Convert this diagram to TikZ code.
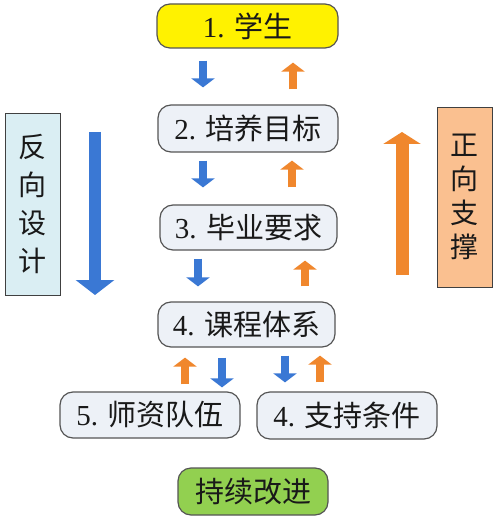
\documentclass[tikz,border=0pt]{standalone}
\usepackage{fontspec}
\setmainfont{Liberation Serif}
\newfontfamily\cjk{Noto Sans CJK SC}
\usepackage{tikz}
\usetikzlibrary{arrows.meta}

\definecolor{StageFill}{RGB}{237,241,247}
\definecolor{StageLine}{RGB}{85,85,85}
\definecolor{StudentFill}{RGB}{255,242,0}
\definecolor{ImproveFill}{RGB}{146,208,80}
\definecolor{BackFill}{RGB}{218,238,243}
\definecolor{ForwardFill}{RGB}{250,192,144}
\definecolor{ArrBlue}{RGB}{58,120,212}
\definecolor{ArrOrange}{RGB}{240,135,45}

\begin{document}
\begin{tikzpicture}[x=1pt, y=-1pt,
    stage/.style={draw=StageLine, line width=1.2pt, rounded corners=13pt,
      fill=StageFill, inner sep=0pt, text=black!90,
      font=\fontsize{29}{34}\selectfont},
    side/.style={draw=black!75, line width=0.8pt, inner sep=0pt,
      align=center, text=black!90},
    downarr/.style={draw=ArrBlue, line width=8pt,
      -{Triangle[width=23pt, length=9pt]}},
    uparr/.style={draw=ArrOrange, line width=8pt,
      -{Triangle[width=23pt, length=9pt]}}]
    \useasboundingbox (0,0) rectangle (496,518);

    % chain of stages
    \node(1) [stage, fill=StudentFill, minimum width=181pt, minimum height=44pt] at (247.5, 26) {1. {\cjk 学生}};
    \node(2) [stage, minimum width=180pt, minimum height=47pt] at (248, 128.5) {2. {\cjk 培养目标}};
    \node(3) [stage, minimum width=177pt, minimum height=45pt] at (248.5, 227.5) {3. {\cjk 毕业要求}};
    \node(4) [stage, minimum width=177pt, minimum height=45pt] at (246.5, 324.5) {4. {\cjk 课程体系}};
    \node(5) [stage, minimum width=180pt, minimum height=46pt] at (150, 415) {5. {\cjk 师资队伍}};
    \node(6) [stage, minimum width=180pt, minimum height=47pt] at (347, 415.5) {4. {\cjk 支持条件}};
    \node(improve) [stage, fill=ImproveFill, minimum width=150pt, minimum height=47pt] at (253, 491.5) {\cjk 持续改进};

    % side labels
    \node(back) [side, fill=BackFill, minimum width=55pt, minimum height=182pt,
      font=\cjk\fontsize{28}{38}\selectfont] at (32.5, 204) {反\\向\\设\\计};
    \node(forward) [side, fill=ForwardFill, minimum width=55pt, minimum height=180pt,
      font=\cjk\fontsize{28}{34}\selectfont] at (464.5, 197) {正\\向\\支\\撑};

    % big arrows
    \coordinate (backtop) at (95, 132);
    \coordinate (backbot) at (95, 295);
    \coordinate (fwdbot) at (402, 275);
    \coordinate (fwdtop) at (402, 132);
    \draw[draw=ArrBlue, line width=12pt, -{Triangle[width=38pt, length=15pt]}] (backtop) -- (backbot);
    \draw[draw=ArrOrange, line width=13pt, -{Triangle[width=37pt, length=12pt]}] (fwdbot) -- (fwdtop);

    % small arrows between stages
    \draw[downarr, shorten <=12pt, shorten >=17pt] ([xshift=-44.5pt]1.south) -- ([xshift=-44.5pt]1.south |- 2.north);
    \draw[uparr, shorten <=15pt, shorten >=14pt] ([xshift=45pt]2.north) -- ([xshift=45pt]2.north |- 1.south);
    \draw[downarr, shorten <=8pt, shorten >=17pt] ([xshift=-45pt]2.south) -- ([xshift=-45pt]2.south |- 3.north);
    \draw[uparr, shorten <=17pt, shorten >=8pt] ([xshift=43.5pt]3.north) -- ([xshift=43.5pt]3.north |- 2.south);
    \draw[downarr, shorten <=8pt, shorten >=15pt] ([xshift=-50.5pt]3.south) -- ([xshift=-50.5pt]3.south |- 4.north);
    \draw[uparr, shorten <=15pt, shorten >=10pt] ([xshift=58.5pt]4.north) -- ([xshift=58.5pt]4.north |- 3.south);
    \draw[uparr, shorten <=7pt, shorten >=10pt] ([xshift=35pt]5.north) -- ([xshift=35pt]5.north |- 4.south);
    \draw[downarr, shorten <=10pt, shorten >=4pt] ([xshift=-24.5pt]4.south) -- ([xshift=-24.5pt]4.south |- 5.north);
    \draw[downarr, shorten <=8pt, shorten >=9pt] ([xshift=38.5pt]4.south) -- ([xshift=38.5pt]4.south |- 6.north);
    \draw[uparr, shorten <=9pt, shorten >=8pt] ([xshift=-27pt]6.north) -- ([xshift=-27pt]6.north |- 4.south);
\end{tikzpicture}
\end{document}
